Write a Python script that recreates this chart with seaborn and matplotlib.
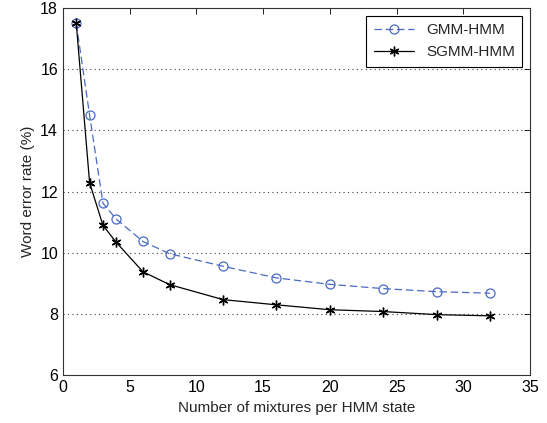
import matplotlib
matplotlib.use("Agg")
import matplotlib.pyplot as plt
import seaborn as sns
import pandas as pd

mixtures = [1, 2, 3, 4, 6, 8, 12, 16, 20, 24, 28, 32]
gmm_hmm = [17.5, 14.5, 11.62, 11.1, 10.37, 9.97, 9.56, 9.18, 8.97, 8.83, 8.73, 8.68]
sgmm_hmm = [17.5, 12.29, 10.9, 10.34, 9.38, 8.96, 8.47, 8.3, 8.14, 8.08, 7.98, 7.94]
xticks = [0, 5, 10, 15, 20, 25, 30, 35]
yticks = [6, 8, 10, 12, 14, 16, 18]

sns.set_style("white")
plt.rcParams['font.family'] = ['Liberation Sans', 'DejaVu Sans']

df = pd.DataFrame({"x": mixtures, "GMM-HMM": gmm_hmm, "SGMM-HMM": sgmm_hmm})

fig = plt.figure(figsize=(5.47, 4.23), dpi=100)
ax = fig.add_axes([0.115, 0.113, 0.854, 0.868])

sns.lineplot(data=df, x="x", y="GMM-HMM", ax=ax, color="#4a6bc4", linestyle=(0, (6, 3)),
             linewidth=0.9, marker="o", markersize=6.5, markerfacecolor="none",
             markeredgecolor="#4a6bc4", markeredgewidth=0.9, label="GMM-HMM")
sns.lineplot(data=df, x="x", y="SGMM-HMM", ax=ax, color="black", linestyle="-",
             linewidth=0.9, marker=(6, 2, 0), markersize=7, markerfacecolor="black",
             markeredgecolor="black", markeredgewidth=1.0, label="SGMM-HMM")

ax.set_xlim(0, 35)
ax.set_ylim(6, 18)
ax.set_xticks(xticks)
ax.set_yticks(yticks)
ax.tick_params(direction="in", top=True, right=True, length=4, width=0.6,
               labelsize=11.5, colors="black")
ax.yaxis.grid(True, linestyle=(0, (1, 3)), color="#444444", linewidth=0.8)
ax.xaxis.grid(False)
for s in ax.spines.values():
    s.set_color("#333333")
    s.set_linewidth(0.8)

ax.set_xlabel("Number of mixtures per HMM state", fontsize=11)
ax.set_ylabel("Word error rate (%)", fontsize=11)

leg = ax.legend(loc="upper right", fontsize=11, frameon=True, fancybox=False,
                edgecolor="black", framealpha=1, borderpad=0.5, handlelength=2.6)
leg.get_frame().set_linewidth(0.8)

fig.savefig("out.png", dpi=100)
